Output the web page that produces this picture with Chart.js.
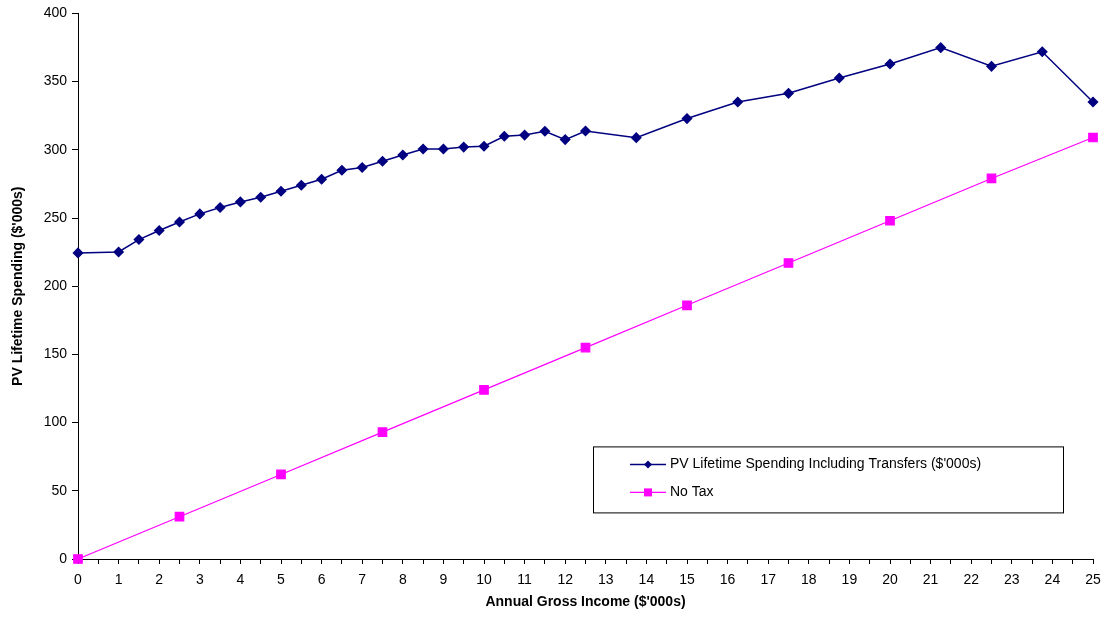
<!DOCTYPE html>
<html lang="en">
<head>
  <meta charset="UTF-8" />
  <title>PV Lifetime Spending</title>
  <style>
    html, body { margin: 0; padding: 0; background: #fff; overflow: hidden; }
    .c-panel_graph { width: 1109px; height: 624px; }
  </style>
</head>
<body>
  <div class="c-panel_graph">
    <canvas id="myChart_spending" width="1109" height="624"></canvas>
  </div>

  <script src="https://cdn.jsdelivr.net/npm/chart.js"></script>
  <script>
    // income ($'000s) and PV lifetime spending incl. transfers
    const spendingIncome = [0, 1, 1.5, 2, 2.5, 3, 3.5, 4, 4.5, 5, 5.5, 6, 6.5, 7, 7.5, 8, 8.5, 9, 9.5, 10,
      10.5, 11, 11.5, 12, 12.5, 13.75, 15, 16.25, 17.5, 18.75, 20, 21.25, 22.5, 23.75, 25];
    const spendingValues = [224.4, 225.1, 234.2, 240.8, 247.1, 253.0, 257.7, 261.8, 265.2, 269.6, 274, 278.4,
      285, 287, 291.6, 296.2, 300.6, 300.6, 302, 302.6, 309.9, 310.8, 313.6, 307.5, 313.8, 308.9, 322.9,
      335, 341.4, 352.6, 362.9, 374.9, 361.2, 371.9, 335];

    // no tax series
    const noTaxIncome = [0, 2.5, 5, 7.5, 10, 12.5, 15, 17.5, 20, 22.5, 25];
    const noTaxValues = [0, 31, 62, 93, 124, 155, 186, 217, 248, 279, 309];

    const seriesLabels = ["PV Lifetime Spending Including Transfers ($'000s)", "No Tax"];
    const xTitle = "Annual Gross Income ($'000s)";
    const yTitle = "PV Lifetime Spending ($'000s)";

    const FONT = "'Liberation Sans', Arial, sans-serif";

    // boxed legend inside the plot, bottom right
    const boxLegend = {
      id: 'boxLegend',
      afterDraw(chart) {
        const ctx = chart.ctx;
        const area = chart.chartArea;
        const x0 = area.left + 515, y0 = area.top + 433, w = 470, h = 66;
        ctx.save();
        ctx.strokeStyle = '#000';
        ctx.lineWidth = 1;
        ctx.strokeRect(x0 + 0.5, y0 + 0.5, w, h);
        chart.data.datasets.forEach((ds, i) => {
          const cy = y0 + 18 + i * 28;
          const lx = x0 + 37;
          ctx.strokeStyle = ds.borderColor;
          ctx.lineWidth = ds.borderWidth;
          ctx.beginPath();
          ctx.moveTo(lx, cy);
          ctx.lineTo(lx + 36, cy);
          ctx.stroke();
          ctx.fillStyle = ds.pointBackgroundColor;
          const mx = lx + 18;
          if (ds.pointStyle === 'rectRot') {
            ctx.beginPath();
            ctx.moveTo(mx, cy - 4);
            ctx.lineTo(mx + 4, cy);
            ctx.lineTo(mx, cy + 4);
            ctx.lineTo(mx - 4, cy);
            ctx.closePath();
            ctx.fill();
          } else {
            ctx.fillRect(mx - 4, cy - 4, 8, 8);
          }
          ctx.fillStyle = '#000';
          ctx.font = '14px ' + FONT;
          ctx.textBaseline = 'middle';
          ctx.fillText(ds.label, lx + 40, cy);
        });
        ctx.restore();
      }
    };

    const el = document.getElementById('myChart_spending');
    new Chart(el, {
      type: 'line',
      data: {
        datasets: [{
          label: seriesLabels[0],
          data: spendingIncome.map((x, i) => ({ x: x, y: spendingValues[i] })),
          borderColor: '#000080',
          backgroundColor: '#000080',
          pointBackgroundColor: '#000080',
          pointBorderColor: '#000080',
          borderWidth: 1.5,
          pointStyle: 'rectRot',
          pointRadius: 4.5,
          tension: 0,
        }, {
          label: seriesLabels[1],
          data: noTaxIncome.map((x, i) => ({ x: x, y: noTaxValues[i] })),
          borderColor: '#ff00ff',
          backgroundColor: '#ff00ff',
          pointBackgroundColor: '#ff00ff',
          pointBorderColor: '#ff00ff',
          borderWidth: 1.2,
          pointStyle: 'rect',
          pointRadius: 6,
          tension: 0,
        }],
      },
      options: {
        responsive: false,
        animation: false,
        clip: false,
        layout: { padding: { top: 13, right: 16, left: 0, bottom: 0 } },
        plugins: {
          legend: { display: false },
          tooltip: { enabled: false },
        },
        scales: {
          x: {
            type: 'linear',
            min: 0,
            max: 25,
            afterFit: s => { s.height = 65; },
            border: { color: '#000', width: 1 },
            grid: { drawOnChartArea: false, drawTicks: true, tickLength: 5, color: '#000' },
            ticks: {
              stepSize: 0.5,
              autoSkip: false,
              maxRotation: 0,
              padding: 8,
              color: '#000',
              font: { family: FONT, size: 14 },
              callback: v => Number.isInteger(v) ? String(v) : '',
            },
            title: {
              display: true,
              text: xTitle,
              color: '#000',
              font: { family: FONT, size: 14, weight: 'bold' },
              padding: { top: 4, bottom: 13 },
            },
          },
          y: {
            min: 0,
            max: 400,
            afterFit: s => { s.width = 78; },
            border: { color: '#000', width: 1 },
            grid: { drawOnChartArea: false, drawTicks: true, tickLength: 6, color: '#000' },
            ticks: {
              stepSize: 50,
              padding: 5,
              color: '#000',
              font: { family: FONT, size: 14 },
            },
            title: {
              display: true,
              text: yTitle,
              color: '#000',
              font: { family: FONT, size: 14, weight: 'bold' },
              padding: { top: 10, bottom: 0 },
            },
          },
        },
      },
      plugins: [boxLegend],
    });
  </script>
</body>
</html>
